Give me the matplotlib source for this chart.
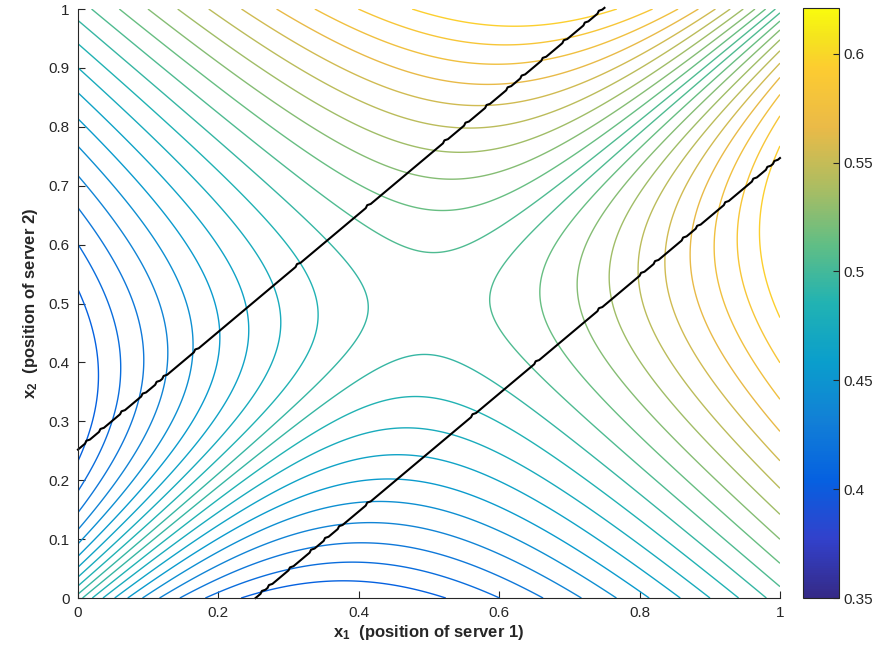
import numpy as np
import matplotlib
matplotlib.use("Agg")
import matplotlib.pyplot as plt
from matplotlib.colors import LinearSegmentedColormap, Normalize
from matplotlib.cm import ScalarMappable

plt.rcParams["font.family"] = ["Liberation Sans", "DejaVu Sans"]
plt.rcParams["mathtext.fontset"] = "custom"
plt.rcParams["mathtext.rm"] = "Liberation Sans:bold"
plt.rcParams["mathtext.bf"] = "Liberation Sans:bold"
plt.rcParams["mathtext.default"] = "bf"

# surface profile: f = 0.5 + (x1+x2-1)/2 * W(|x1-x2|)
w_gain = 1.56
w_sat = 2.0

# contour levels and colour limits
levels = [round(0.355 + 0.01 * k, 4) for k in range(27)]
c_min, c_max = 0.35, 0.621

# black lines: x2 = x1 + offset, with small steps at these x1 positions
line_a_offset = 0.252
line_a_range = [0.0, 0.75]
line_a_steps = [0.01, 0.03, 0.06, 0.09, 0.11, 0.12, 0.165, 0.31, 0.41, 0.52,
                0.55, 0.58, 0.61, 0.63, 0.66, 0.69, 0.72, 0.74]
line_b_offset = -0.253
line_b_range = [0.253, 1.0]
line_b_steps = [0.26, 0.27, 0.30, 0.33, 0.35, 0.37, 0.41, 0.56, 0.65, 0.74,
                0.80, 0.82, 0.86, 0.88, 0.92, 0.96, 0.98, 0.99]

x_ticks = [0, 0.2, 0.4, 0.6, 0.8, 1]
y_ticks = [0, 0.1, 0.2, 0.3, 0.4, 0.5, 0.6, 0.7, 0.8, 0.9, 1]
cb_ticks = [0.35, 0.4, 0.45, 0.5, 0.55, 0.6]

# parula-like colormap anchors
parula_pos = [0.0, 0.1, 0.2, 0.3, 0.4, 0.5, 0.6, 0.7, 0.8, 0.9, 0.95, 1.0]
parula_rgb = [
    (0.208, 0.166, 0.529),
    (0.196, 0.255, 0.800),
    (0.020, 0.380, 0.880),
    (0.070, 0.500, 0.840),
    (0.040, 0.620, 0.800),
    (0.130, 0.700, 0.700),
    (0.380, 0.745, 0.520),
    (0.680, 0.740, 0.380),
    (0.920, 0.730, 0.280),
    (0.990, 0.800, 0.190),
    (0.960, 0.890, 0.120),
    (0.976, 0.983, 0.054),
]
parula = LinearSegmentedColormap.from_list("parula", list(zip(parula_pos, parula_rgb)))


def stepped_line(offset, xr, steps):
    xs, ys = [xr[0]], [xr[0] + offset]
    for s in steps:
        xs += [s, s + 0.002, s + 0.007]
        ys += [s + offset, s + offset + 0.005, s + offset + 0.007]
    xs.append(xr[1])
    ys.append(xr[1] + offset)
    return xs, ys


g1 = np.linspace(0, 1, 601)
X1, X2 = np.meshgrid(g1, g1)
V = np.abs(X1 - X2)
Z = 0.5 + (X1 + X2 - 1) / 2 * (w_gain * V / (1 + w_sat * V))

fig = plt.figure(figsize=(8.75, 6.53), dpi=100)
ax = fig.add_axes([0.0891, 0.0842, 0.8023, 0.902])
norm = Normalize(c_min, c_max)
ax.contour(X1, X2, Z, levels=levels, cmap=parula, norm=norm, linewidths=1.0)

ax_x, ax_y = stepped_line(line_a_offset, line_a_range, line_a_steps)
bx_x, bx_y = stepped_line(line_b_offset, line_b_range, line_b_steps)
ax.plot(ax_x, ax_y, color="black", lw=1.5, clip_on=False)
ax.plot(bx_x, bx_y, color="black", lw=1.5, clip_on=False)

ax.set_xlim(0, 1)
ax.set_ylim(0, 1)
ax.set_xticks(x_ticks)
ax.set_xticklabels(["0", "0.2", "0.4", "0.6", "0.8", "1"])
ax.set_yticks(y_ticks)
ax.set_yticklabels(["0", "0.1", "0.2", "0.3", "0.4", "0.5", "0.6", "0.7", "0.8", "0.9", "1"])
axc = (0.15, 0.15, 0.15)
for s in ["top", "right"]:
    ax.spines[s].set_visible(False)
for s in ["left", "bottom"]:
    ax.spines[s].set_color(axc)
    ax.spines[s].set_linewidth(0.8)
ax.tick_params(direction="in", length=5, colors=axc, labelsize=11, pad=6)
ax.set_xlabel(r"x$_1$  (position of server 1)", fontsize=12, fontweight="bold", color=axc, labelpad=2)
ax.set_ylabel(r"x$_2$  (position of server 2)", fontsize=12, fontweight="bold", color=axc, labelpad=6)

cax = fig.add_axes([0.9177, 0.0842, 0.0411, 0.9035])
cb = fig.colorbar(ScalarMappable(norm=norm, cmap=parula), cax=cax)
cb.set_ticks(cb_ticks)
cb.set_ticklabels(["0.35", "0.4", "0.45", "0.5", "0.55", "0.6"])
cb.outline.set_edgecolor(axc)
cb.outline.set_linewidth(0.8)
cax.tick_params(direction="in", length=4, colors=axc, labelsize=11)

fig.savefig("out.png", dpi=100)
